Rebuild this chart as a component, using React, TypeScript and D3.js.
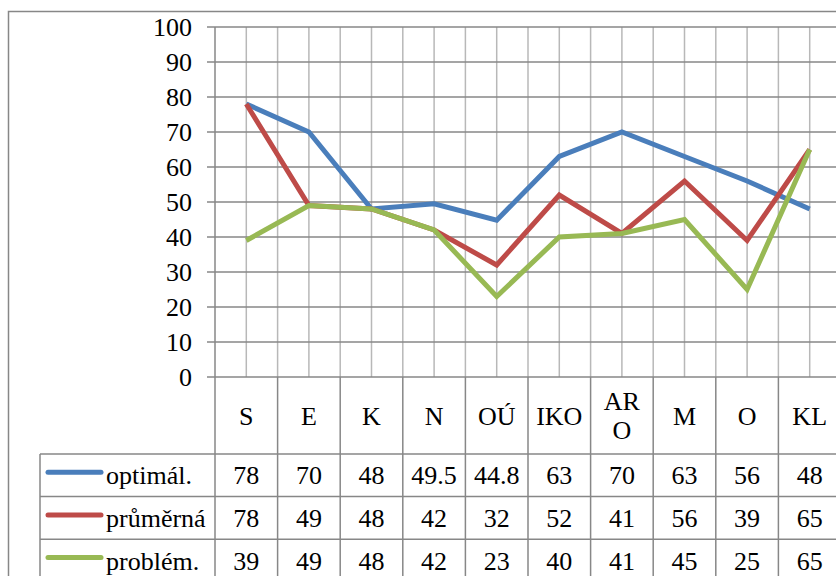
import React from 'react';
import * as d3 from 'd3';

const categories = ['S', 'E', 'K', 'N', 'OÚ', 'IKO', 'ARO', 'M', 'O', 'KL'];
const categoryLines: string[][] = [['S'], ['E'], ['K'], ['N'], ['OÚ'], ['IKO'], ['AR', 'O'], ['M'], ['O'], ['KL']];
const yTicks = [0, 10, 20, 30, 40, 50, 60, 70, 80, 90, 100];

const optimal = [78, 70, 48, 49.5, 44.8, 63, 70, 63, 56, 48];
const prumerna = [78, 49, 48, 42, 32, 52, 41, 56, 39, 65];
const problem = [39, 49, 48, 42, 23, 40, 41, 45, 25, 65];

const series = [
  { name: 'optimál.', values: optimal, color: '#4a7ebb' },
  { name: 'průměrná', values: prumerna, color: '#be4b48' },
  { name: 'problém.', values: problem, color: '#98b954' },
];

const W = 836;
const H = 576;
const FONT = 'Liberation Serif, DejaVu Serif, serif';
const textStyle: React.CSSProperties = { fontFamily: FONT, fontSize: '26px' };
const gridDark = '#878787';
const gridLight = '#b8b8b8';

export default function App() {
  const plotLeft = 215;
  const bandW = 62.6;
  const x = d3.scaleBand<string>()
    .domain(categories)
    .range([plotLeft, plotLeft + bandW * categories.length]);
  const y = d3.scaleLinear().domain([0, 100]).range([377, 27]);
  const plotRight = plotLeft + bandW * categories.length;

  const headerBottom = 454;
  const rowH = 42.6;
  const legendLeft = 40;
  const tableBottom = headerBottom + rowH * series.length;

  const line = d3.line<number>()
    .x((_, i) => (x(categories[i]) as number) + x.bandwidth() / 2)
    .y(d => y(d));

  return (
    <svg width={W} height={H} style={{ position: 'absolute', left: 0, top: 0, background: '#fff', fontFamily: FONT }}>
      {/* outer frame */}
      <rect x={8.5} y={11.5} width={W} height={H} fill="none" stroke={gridDark} strokeWidth={1.5} />

      {/* vertical light gridlines: centers and boundaries */}
      {categories.map(c => {
        const x0 = x(c) as number;
        const xc = x0 + x.bandwidth() / 2;
        return (
          <g key={'v' + c}>
            <line x1={xc} x2={xc} y1={y(100)} y2={y(0)} stroke={gridLight} strokeWidth={1.5} />
            <line x1={x0 + x.bandwidth()} x2={x0 + x.bandwidth()} y1={y(100)} y2={y(0)} stroke={gridLight} strokeWidth={1.5} />
          </g>
        );
      })}

      {/* horizontal gridlines + ticks + labels */}
      {yTicks.map(t => (
        <g key={'h' + t}>
          <line x1={207} x2={plotRight} y1={y(t)} y2={y(t)} stroke={gridDark} strokeWidth={1.5} />
          <text x={192} y={y(t)} dy="0.35em" textAnchor="end" style={textStyle} fill="#000">{t}</text>
        </g>
      ))}

      {/* axis left */}
      <line x1={plotLeft} x2={plotLeft} y1={y(100)} y2={tableBottom} stroke={gridDark} strokeWidth={1.5} />

      {/* table column lines */}
      {categories.map(c => {
        const xr = (x(c) as number) + x.bandwidth();
        return <line key={'c' + c} x1={xr} x2={xr} y1={y(0)} y2={tableBottom} stroke={gridDark} strokeWidth={1.5} />;
      })}

      {/* table row lines */}
      {series.map((s, i) => (
        <line key={'r' + i} x1={legendLeft} x2={plotRight} y1={headerBottom + rowH * i} y2={headerBottom + rowH * i} stroke={gridDark} strokeWidth={1.5} />
      ))}
      <line x1={legendLeft} x2={legendLeft} y1={headerBottom} y2={tableBottom} stroke={gridDark} strokeWidth={1.5} />

      {/* category headers */}
      {categories.map((c, i) => {
        const xc = (x(c) as number) + x.bandwidth() / 2;
        const lines = categoryLines[i];
        const mid = (y(0) + headerBottom) / 2;
        const lh = 29;
        return (
          <text key={'t' + c} x={xc} textAnchor="middle" style={textStyle} fill="#000">
            {lines.map((l, j) => (
              <tspan key={j} x={xc} y={mid + (j - (lines.length - 1) / 2) * lh} dy="0.35em">{l}</tspan>
            ))}
          </text>
        );
      })}

      {/* series lines */}
      {series.map(s => (
        <path key={s.name} d={line(s.values) as string} fill="none" stroke={s.color} strokeWidth={5} strokeLinejoin="miter" />
      ))}

      {/* table rows */}
      {series.map((s, i) => {
        const cy = headerBottom + rowH * i + rowH / 2;
        return (
          <g key={'row' + s.name}>
            <line x1={48} x2={101} y1={cy - 3} y2={cy - 3} stroke={s.color} strokeWidth={5} strokeLinecap="round" />
            <text x={106} y={cy} dy="0.35em" style={textStyle} fill="#000">{s.name}</text>
            {s.values.map((v, j) => (
              <text key={j} x={(x(categories[j]) as number) + x.bandwidth() / 2} y={cy} dy="0.35em" textAnchor="middle" style={textStyle} fill="#000">{v}</text>
            ))}
          </g>
        );
      })}
    </svg>
  );
}
